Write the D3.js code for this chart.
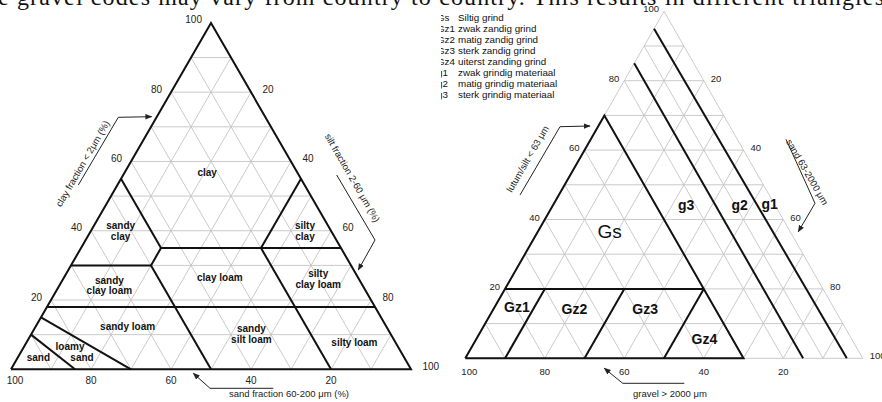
<!DOCTYPE html>
<html>
<head>
<meta charset="utf-8">
<script src="https://cdn.jsdelivr.net/npm/d3@7"></script>
<style>
  body { margin: 0; background: #fff; }
  svg { display: block; font-family: Arial, "Liberation Sans", sans-serif; }
</style>
</head>
<body>
<svg id="chart" width="882" height="402"></svg>
<script>
// tick labels, same on all sides of both triangles
const tickValues = [20, 40, 60, 80, 100];
const gridValues = [10, 20, 30, 40, 50, 60, 70, 80, 90];

// soil texture triangle, points as [clay, silt] in %, sand is the rest
const soilBoundaries = [
  [[18, 0], [18, 82]],
  [[30, 0], [30, 20]],
  [[30, 20], [35, 20]],
  [[35, 20], [55, 0]],
  [[35, 20], [35, 65]],
  [[35, 45], [55, 45]],
  [[30, 20], [0, 50]],
  [[35, 45], [0, 80]],
  [[15, 0], [0, 30]],
  [[10, 0], [0, 16]]
];
const soilClasses = [
  ["clay"], ["sandy", "clay"], ["silty", "clay"], ["clay loam"],
  ["sandy", "clay loam"], ["silty", "clay loam"], ["sandy loam"],
  ["sandy", "silt loam"], ["silty loam"], ["loamy", "sand"], ["sand"]
];
const soilClassAt = [
  [56.7, 20.7], [40, 7.4], [40, 53.5], [26.4, 39], [24.2, 12.5], [26, 63.8],
  [12.3, 23], [10.2, 55], [7.7, 82], [4.9, 13.8], [3.3, 5.2]
];

// gravel triangle, points as [fines, sand] in %, gravel is the rest
const gravelOutline = [[0, 0], [70, 0], [0, 70], [0, 0]];
const gravelBoundaries = [
  [[20, 0], [20, 50]],
  [[0, 10], [20, 10]],
  [[0, 30], [20, 30]],
  [[0, 50], [20, 50]],
  [[85, 0], [0, 85]],
  [[95, 0], [0, 96]]
];
const gravelClasses = ["Gz1", "Gz2", "Gz3", "Gz4", "g3", "g2", "g1"];
const gravelClassAt = [[14.4, 5.8], [13.9, 20.5], [13.9, 38.3], [5.3, 57.5], [43.7, 33.7], [43.7, 47.2], [44.2, 54.5]];
const gsAt = [36, 18.3];

const legendCodes = ["Gs", "Gz1", "Gz2", "Gz3", "Gz4", "g1", "g2", "g3"];
const legendNames = [
  "Siltig grind", "zwak zandig grind", "matig zandig grind", "sterk zandig grind",
  "uiterst zanding grind", "zwak grindig materiaal", "matig grindig materiaal", "sterk grindig materiaal"
];

const svg = d3.select("#chart");

// p = [top component, right component]
function ternary(x0, y0, w, h) {
  const x = d3.scaleLinear().domain([0, 100]).range([x0, x0 + w]);
  const y = d3.scaleLinear().domain([0, 100]).range([y0, y0 - h]);
  return p => [x(p[1] + p[0] / 2), y(p[0])];
}

function gridLines(v) {
  return [
    [[v, 0], [v, 100 - v]],
    [[0, v], [100 - v, v]],
    [[100 - v, 0], [0, 100 - v]]
  ];
}

const defs = svg.append("defs");
defs.append("marker")
    .attr("id", "head")
    .attr("viewBox", "0 0 10 10")
    .attr("refX", 9).attr("refY", 5)
    .attr("markerWidth", 7).attr("markerHeight", 7)
    .attr("markerUnits", "userSpaceOnUse")
    .attr("orient", "auto")
  .append("path")
    .attr("d", "M0,1L10,5L0,9z")
    .attr("fill", "#222");
defs.append("clipPath").attr("id", "clipL")
  .append("rect").attr("x", 0).attr("y", 0).attr("width", 441).attr("height", 402);
defs.append("clipPath").attr("id", "clipR")
  .append("rect").attr("x", 441).attr("y", 0).attr("width", 441).attr("height", 402);

// running text of the page above the figure
svg.append("text")
    .attr("x", -2).attr("y", 4.5)
    .attr("textLength", 886)
    .attr("lengthAdjust", "spacing")
    .style("font-family", "'Liberation Serif', 'Times New Roman', serif")
    .style("font-size", "24px")
    .attr("fill", "#111")
    .text("e gravel codes may vary from country to country. This results in different triangles");

function drawTriangle(g, pt, opts) {
  const line = d3.line().x(d => pt(d)[0]).y(d => pt(d)[1]);

  g.append("g").selectAll("path")
    .data(gridValues.flatMap(gridLines))
    .join("path")
      .attr("d", line)
      .attr("fill", "none")
      .attr("stroke", "#c4c4c4")
      .attr("stroke-width", 0.9);

  g.append("path")
      .attr("d", line([[0, 0], [100, 0], [0, 100], [0, 0]]))
      .attr("fill", "none")
      .attr("stroke", opts.outline)
      .attr("stroke-width", opts.outlineWidth);

  const ticks = g.append("g")
      .attr("font-size", opts.tickSize)
      .attr("fill", "#222");
  // left side: top component
  ticks.selectAll(".tl").data(tickValues).join("text")
      .attr("class", "tl")
      .attr("text-anchor", "end")
      .attr("x", d => pt([d, 0])[0] + opts.leftDx)
      .attr("y", d => pt([d, 0])[1] + opts.sideDy)
      .text(d => d);
  // right side: right component
  ticks.selectAll(".tr").data(tickValues).join("text")
      .attr("class", "tr")
      .attr("x", d => pt([100 - d, d])[0] + opts.rightDx)
      .attr("y", d => pt([100 - d, d])[1] + opts.sideDy)
      .text(d => d);
  // base: left component
  ticks.selectAll(".tb").data(tickValues).join("text")
      .attr("class", "tb")
      .attr("text-anchor", "middle")
      .attr("x", d => pt([0, 100 - d])[0] + (d === 100 ? 4 : 0))
      .attr("y", d => pt([0, 100 - d])[1] + opts.baseDy)
      .text(d => d);

  return line;
}

function arrow(g, pts) {
  g.append("path")
      .attr("d", d3.line()(pts))
      .attr("fill", "none")
      .attr("stroke", "#222")
      .attr("stroke-width", 1)
      .attr("marker-end", "url(#head)");
}

function axisTitle(g, x, y, angle, txt) {
  g.append("text")
      .attr("transform", `translate(${x},${y}) rotate(${angle})`)
      .attr("text-anchor", "middle")
      .attr("dominant-baseline", "middle")
      .attr("font-size", 9.5)
      .attr("fill", "#222")
      .text(txt);
}

// ---- left: soil texture triangle
const left = svg.append("g").attr("clip-path", "url(#clipL)");
const ptL = ternary(11, 369.3, 400, 346.4);
const lineL = drawTriangle(left, ptL, {
  outline: "#111", outlineWidth: 2, tickSize: 10,
  leftDx: -9, rightDx: 11.5, sideDy: 0.5, baseDy: 14.3
});

left.append("g").selectAll("path")
  .data(soilBoundaries)
  .join("path")
    .attr("d", lineL)
    .attr("fill", "none")
    .attr("stroke", "#111")
    .attr("stroke-width", 2);

left.append("g").selectAll("text")
  .data(soilClasses)
  .join("text")
    .attr("text-anchor", "middle")
    .attr("font-size", 10)
    .attr("font-weight", "bold")
    .attr("fill", "#111")
    .attr("transform", (d, i) => `translate(${ptL(soilClassAt[i])})`)
    .each(function (d) {
      const n = d.length;
      d3.select(this).selectAll("tspan").data(d).join("tspan")
        .attr("x", (t, j) => (n === 2 && d[0] === "loamy") ? (j ? 6 : -6) : 0)
        .attr("y", (t, j) => (j - (n - 1) / 2) * 10.8 + 3.5)
        .text(t => t);
    });

axisTitle(left, 83.3, 164, -60, "clay fraction < 2μm (%)");
arrow(left, [[78.3, 185], [118.3, 117.3], [151.7, 116.7]]);
axisTitle(left, 351.7, 178.3, 60, "silt fraction 2-60 μm (%)");
arrow(left, [[336.7, 175], [375, 240], [358.3, 270]]);
axisTitle(left, 289, 394.5, 0, "sand fraction 60-200 μm (%)");
arrow(left, [[273.3, 388.3], [210, 388.3], [193.3, 373.3]]);

// ---- right: gravel triangle
const right = svg.append("g").attr("clip-path", "url(#clipR)");
const ptR = ternary(465.3, 358.3, 397.4, 347);
const lineR = drawTriangle(right, ptR, {
  outline: "#c4c4c4", outlineWidth: 0.9, tickSize: 9.5,
  leftDx: -5, rightDx: 7, sideDy: 1, baseDy: 17
});

right.append("path")
    .attr("d", lineR(gravelOutline))
    .attr("fill", "none")
    .attr("stroke", "#111")
    .attr("stroke-width", 2);

right.append("g").selectAll("path")
  .data(gravelBoundaries)
  .join("path")
    .attr("d", lineR)
    .attr("fill", "none")
    .attr("stroke", "#111")
    .attr("stroke-width", 2);

right.append("text")
    .attr("transform", `translate(${ptR(gsAt)})`)
    .attr("text-anchor", "middle")
    .attr("dominant-baseline", "middle")
    .attr("font-size", 19)
    .attr("fill", "#111")
    .text("Gs");

right.append("g").selectAll("text")
  .data(gravelClasses)
  .join("text")
    .attr("transform", (d, i) => `translate(${ptR(gravelClassAt[i])})`)
    .attr("text-anchor", "middle")
    .attr("dominant-baseline", "middle")
    .attr("font-size", 14)
    .attr("font-weight", "bold")
    .attr("fill", "#111")
    .text(d => d);

const legend = right.append("g").attr("font-size", 9.8).attr("fill", "#111");
legend.selectAll(".code").data(legendCodes).join("text")
    .attr("class", "code")
    .attr("x", 437)
    .attr("y", (d, i) => 20.8 + i * 11)
    .text(d => d);
legend.selectAll(".name").data(legendNames).join("text")
    .attr("class", "name")
    .attr("x", 458)
    .attr("y", (d, i) => 20.8 + i * 11)
    .text(d => d);

axisTitle(right, 528.3, 159.2, -60, "lutum/silt < 63 μm");
arrow(right, [[520, 195], [560, 126.7], [590, 126]]);
axisTitle(right, 806.5, 172.5, 60, "sand 63-2000 μm");
arrow(right, [[786, 139.3], [815, 203.3], [798.3, 231.7]]);
axisTitle(right, 670, 394, 0, "gravel > 2000 μm");
arrow(right, [[684.3, 383.3], [622.7, 383.3], [604.3, 368.3]]);
</script>
</body>
</html>
